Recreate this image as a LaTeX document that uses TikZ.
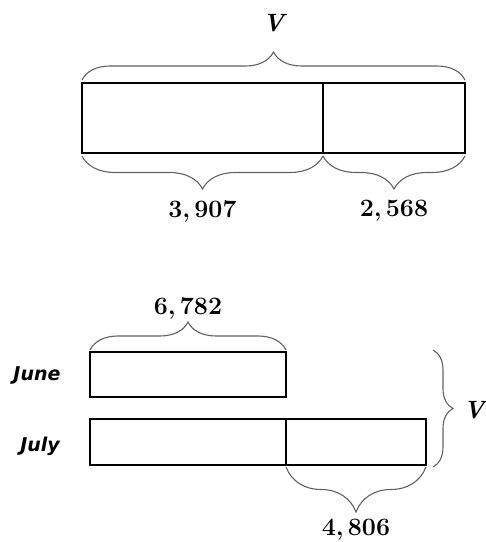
\documentclass[tikz,border=0pt]{standalone}
\usepackage{fontspec}
\newfontfamily\labfont{DejaVu Sans}
\usetikzlibrary{decorations.pathreplacing}
\begin{document}
\begin{tikzpicture}[x=1pt,y=1pt,
  part/.style={draw=black,line width=2.4pt,anchor=south west,inner sep=0pt,outer sep=0pt},
  br/.style={draw=black!62,line width=1.1pt,decorate,decoration={brace,amplitude=#1}},
  num/.style={font=\fontsize{25}{28}\selectfont\bfseries,inner sep=0pt},
  vlab/.style={font=\fontsize{25}{28}\selectfont\bfseries\itshape,inner sep=0pt},
  lab/.style={font=\fontsize{19}{23}\selectfont\labfont\bfseries\itshape,inner sep=0pt}]
\useasboundingbox (0,0) rectangle (486,542);
% top bar
\node[part,minimum width=241,minimum height=70] (a1) at (82,389) {};
\node[part,minimum width=142,minimum height=70] (a2) at (323,389) {};
\draw[br=28] ([yshift=3]a1.north west) -- ([yshift=3]a2.north east) node[midway,above=48pt,vlab] (v1) {V};
\draw[br=33] ([yshift=-3]a1.south east) -- ([yshift=-3]a1.south west) node[midway,below=44pt,num] (n1) {3,\,907};
\draw[br=33] ([yshift=-3]a2.south east) -- ([yshift=-3]a2.south west) node[midway,below=44pt,num] (n2) {2,\,568};
% lower bars
\node[part,minimum width=196,minimum height=45] (june) at (90,145) {};
\node[part,minimum width=196,minimum height=46] (b1) at (90,77) {};
\node[part,minimum width=140,minimum height=46] (b2) at (286,77) {};
\node[lab] (lj) at (37,167) {June};
\node[lab] (ll) at (40,96) {July};
\draw[br=28] ([yshift=2]june.north west) -- ([yshift=2]june.north east) node[midway,above=30pt,num] (n3) {6,\,782};
\draw[br=20] ([xshift=7]b2.east |- june.north) ++(0,2) coordinate (rt) -- ([xshift=7,yshift=-2]b2.south east) coordinate (rb);
\node[vlab] (v2) at (474,132) {V};
\draw[br=45] ([yshift=-2]b2.south east) -- ([yshift=-2]b2.south west) node[midway,below=52pt,num] (n4) {4,\,806};
\end{tikzpicture}
\end{document}
